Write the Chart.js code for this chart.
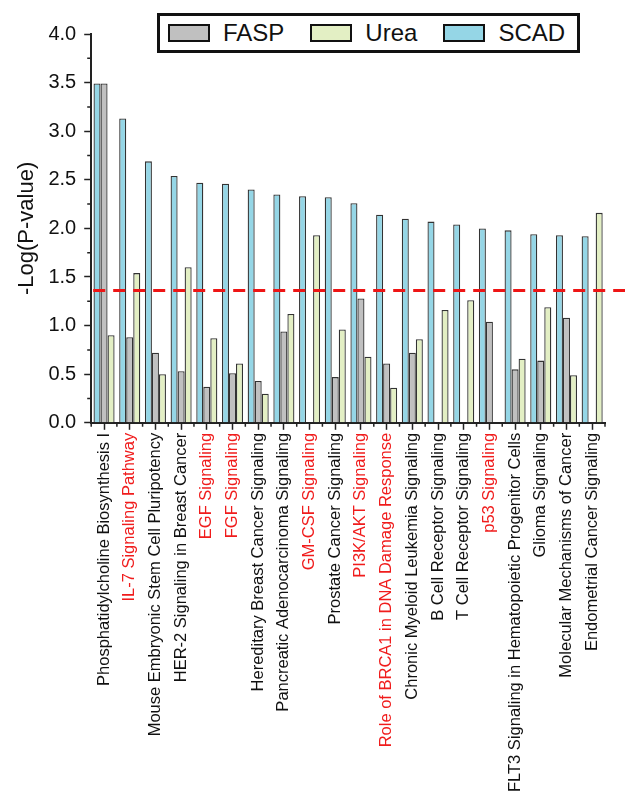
<!DOCTYPE html>
<html>
<head>
<meta charset="utf-8">
<title>Pathways</title>
<script src="https://cdn.jsdelivr.net/npm/chart.js@4.4.0/dist/chart.umd.min.js"></script>
<style>
html, body { margin: 0; padding: 0; background: #fff; }
#wrap { position: relative; width: 635px; height: 795px; }
#legend {
    position: absolute; left: 157px; top: 13px; width: 423px; height: 40px;
    box-sizing: border-box; border: 3px solid #111; background: #fff;
    display: flex; align-items: center; padding-left: 8px;
    font-family: Arial, 'Liberation Sans', sans-serif; font-size: 24px; color: #111;
}
#legend .item { display: flex; align-items: center; margin-right: 26px; }
#legend .swatch { width: 42px; height: 18px; box-sizing: border-box; border: 2.5px solid #111; margin-right: 13px; }
</style>
</head>
<body>
<div id="wrap">
    <canvas id="pathChart" width="635" height="795"></canvas>
    <div id="legend"></div>
</div>
<script>
var categories = [
    'Phosphatidylcholine Biosynthesis I',
    'IL-7 Signaling Pathway',
    'Mouse Embryonic Stem Cell Pluripotency',
    'HER-2 Signaling in Breast Cancer',
    'EGF Signaling',
    'FGF Signaling',
    'Hereditary Breast Cancer Signaling',
    'Pancreatic Adenocarcinoma Signaling',
    'GM-CSF Signaling',
    'Prostate Cancer Signaling',
    'PI3K/AKT Signaling',
    'Role of BRCA1 in DNA Damage Response',
    'Chronic Myeloid Leukemia Signaling',
    'B Cell Receptor Signaling',
    'T Cell Receptor Signaling',
    'p53 Signaling',
    'FLT3 Signaling in Hematopoietic Progenitor Cells',
    'Glioma Signaling',
    'Molecular Mechanisms of Cancer',
    'Endometrial Cancer Signaling'
];
// pathways printed in red
var highlighted = [
    'IL-7 Signaling Pathway', 'EGF Signaling', 'FGF Signaling', 'GM-CSF Signaling',
    'PI3K/AKT Signaling', 'Role of BRCA1 in DNA Damage Response', 'p53 Signaling'
];
var scad = [3.49, 3.13, 2.69, 2.54, 2.47, 2.46, 2.40, 2.35, 2.33, 2.32, 2.26, 2.14, 2.10, 2.07, 2.04, 2.00, 1.98, 1.94, 1.93, 1.92];
var fasp = [3.49, 0.88, 0.72, 0.53, 0.37, 0.51, 0.43, 0.94, 0, 0.47, 1.28, 0.61, 0.72, 0, 0, 1.04, 0.55, 0.64, 1.08, 0];
var urea = [0.90, 1.54, 0.50, 1.60, 0.87, 0.61, 0.30, 1.12, 1.93, 0.96, 0.68, 0.36, 0.86, 1.16, 1.26, 0, 0.66, 1.19, 0.49, 2.16];
var yTicks = [0, 0.5, 1, 1.5, 2, 2.5, 3, 3.5, 4];
var threshold = 1.36;

var colors = { FASP: '#c0c0c0', Urea: '#e3efc4', SCAD: '#95d6e6' };
var fontFamily = "Arial, 'Liberation Sans', sans-serif";

// legend (FASP, Urea, SCAD order as in the figure)
['FASP', 'Urea', 'SCAD'].forEach(function (name) {
    var item = document.createElement('div');
    item.className = 'item';
    item.innerHTML = '<span class="swatch" style="background:' + colors[name] + '"></span><span>' + name + '</span>';
    document.getElementById('legend').appendChild(item);
});

var minorTicks = {
    id: 'minorTicks',
    afterDraw: function (chart) {
        var ctx = chart.ctx, x = chart.scales.x, y = chart.scales.y, area = chart.chartArea;
        ctx.save();
        ctx.strokeStyle = '#222';
        ctx.lineWidth = 1.5;
        ctx.beginPath();
        for (var i = 0; i < yTicks.length - 1; i++) {
            var py = y.getPixelForValue((yTicks[i] + yTicks[i + 1]) / 2);
            ctx.moveTo(area.left - 4, py);
            ctx.lineTo(area.left, py);
        }
        for (var j = 0; j <= categories.length; j++) {
            var px = x.getPixelForValue(j - 0.5);
            ctx.moveTo(px, area.bottom);
            ctx.lineTo(px, area.bottom + 4);
        }
        ctx.stroke();
        ctx.restore();
    }
};

var thresholdLine = {
    id: 'thresholdLine',
    afterDatasetsDraw: function (chart) {
        var ctx = chart.ctx, y = chart.scales.y, area = chart.chartArea;
        var py = y.getPixelForValue(threshold);
        ctx.save();
        ctx.strokeStyle = '#ee1515';
        ctx.lineWidth = 3;
        ctx.setLineDash([12, 8]);
        ctx.beginPath();
        ctx.moveTo(area.left + 2, py);
        ctx.lineTo(chart.width - 10, py);
        ctx.stroke();
        ctx.restore();
    }
};

var barData = {
    labels: categories,
    datasets: [
        { label: 'SCAD', data: scad, backgroundColor: colors.SCAD },
        { label: 'FASP', data: fasp, backgroundColor: colors.FASP },
        { label: 'Urea', data: urea, backgroundColor: colors.Urea }
    ]
};

var myChart = new Chart(document.getElementById('pathChart'), {
    type: 'bar',
    data: barData,
    plugins: [minorTicks, thresholdLine],
    options: {
        responsive: false,
        animation: false,
        layout: { padding: { top: 34, right: 30, left: 14, bottom: 0 } },
        elements: {
            bar: { borderWidth: 1.3, borderColor: '#333' }
        },
        datasets: {
            bar: { categoryPercentage: 0.82, barPercentage: 1.0 }
        },
        plugins: {
            legend: { display: false },
            tooltip: { enabled: false }
        },
        scales: {
            x: {
                grid: { display: true, drawOnChartArea: false, offset: false, tickLength: 7, tickWidth: 1.5, tickColor: '#222' },
                border: { color: '#222', width: 2 },
                ticks: {
                    autoSkip: false, minRotation: 90, maxRotation: 90, padding: 3,
                    font: { family: fontFamily, size: 16.5 },
                    color: function (c) { return highlighted.indexOf(categories[c.index]) >= 0 ? '#f01c1c' : '#111'; }
                }
            },
            y: {
                min: 0, max: 4,
                grid: { drawOnChartArea: false, tickLength: 7, tickWidth: 1.5, tickColor: '#222' },
                border: { color: '#222', width: 2 },
                ticks: {
                    stepSize: 0.5, padding: 8,
                    font: { family: fontFamily, size: 20 }, color: '#111',
                    callback: function (v) { return v.toFixed(1); }
                },
                title: {
                    display: true, text: '-Log(P-value)', color: '#111',
                    font: { family: fontFamily, size: 22 }, padding: { top: 0, bottom: 0 }
                }
            }
        }
    }
});
</script>
</body>
</html>
